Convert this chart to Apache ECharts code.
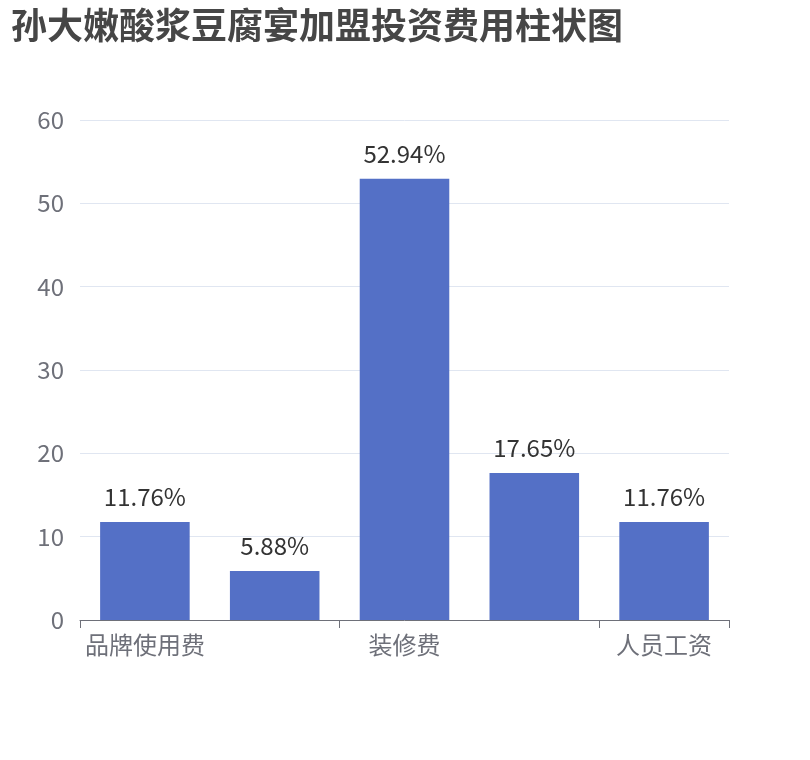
<!DOCTYPE html>
<html>
<head>
<meta charset="utf-8">
<script src="https://cdn.jsdelivr.net/npm/echarts@6/dist/echarts.min.js"></script>
<style>
  html, body { margin: 0; padding: 0; background: #fff; }
  #chart { width: 810px; height: 760px; }
</style>
</head>
<body>
<div id="chart"></div>
<script>
// 分类与数值（百分比）
const categories = ['品牌使用费', '保证金', '装修费', '设备费', '人员工资'];
const values = [11.76, 5.88, 52.94, 17.65, 11.76];

const chart = echarts.init(document.getElementById('chart'));

const FONT = 'Noto Sans CJK SC';

const option = {
    textStyle: { fontFamily: FONT },
    title: {
        text: '孙大嫩酸浆豆腐宴加盟投资费用柱状图',
        left: 6,
        top: 2,
        textStyle: {
            fontSize: 36,
            fontWeight: 'bold',
            color: '#464646',
            fontFamily: FONT
        }
    },
    grid: {
        left: 80,
        right: 81,
        top: 120,
        bottom: 140
    },
    xAxis: {
        type: 'category',
        data: categories,
        axisLine: { lineStyle: { color: '#6e7079' } },
        axisTick: { show: true, interval: 1, length: 8 },
        axisLabel: {
            fontSize: 24,
            color: '#6e7079',
            fontFamily: FONT,
            margin: 13
        }
    },
    yAxis: {
        type: 'value',
        min: 0,
        max: 60,
        interval: 10,
        axisLabel: {
            fontSize: 24,
            color: '#6e7079',
            fontFamily: FONT,
            margin: 16
        },
        splitLine: { lineStyle: { color: '#e0e6f1' } }
    },
    series: [
        {
            type: 'bar',
            data: values,
            barCategoryGap: '31%',
            itemStyle: { color: '#5470c6' },
            label: {
                show: true,
                position: 'top',
                distance: 13,
                fontSize: 24,
                color: '#333',
                fontFamily: FONT,
                formatter: function (p) {
                    return p.value.toFixed(2) + '%';
                }
            }
        }
    ]
};

chart.setOption(option);
</script>
</body>
</html>
